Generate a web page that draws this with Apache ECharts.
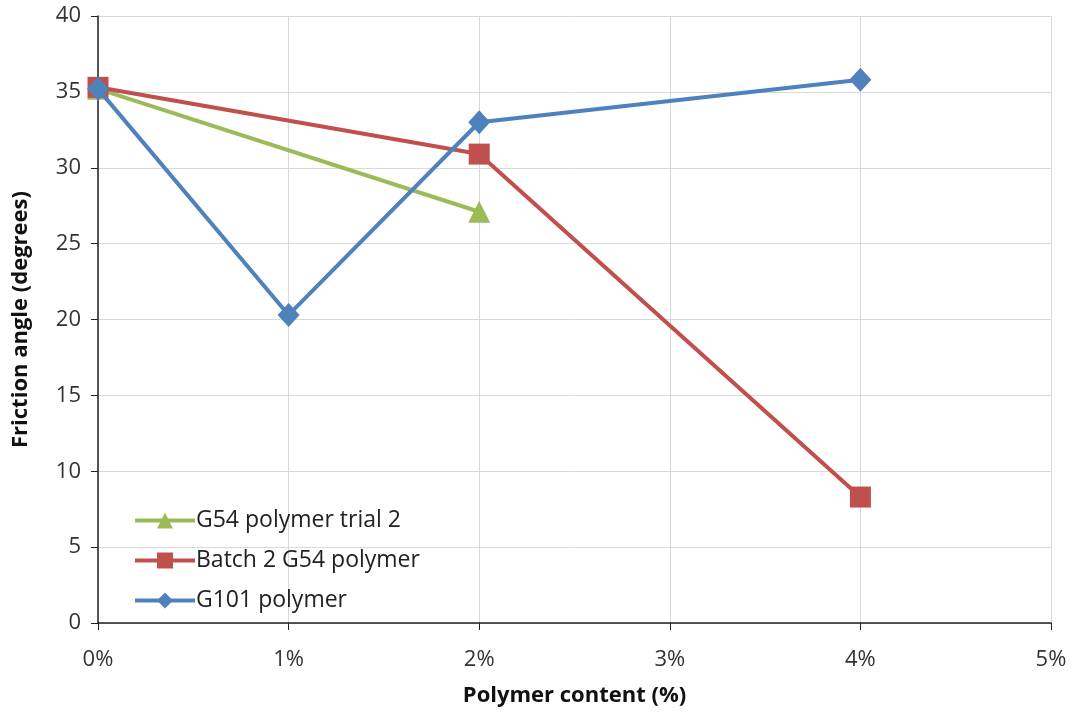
<!DOCTYPE html>
<html><head><meta charset="utf-8">
<script src="https://cdn.jsdelivr.net/npm/echarts@6/dist/echarts.min.js"></script>
<style>html,body{margin:0;padding:0;background:#fff}#c{width:1075px;height:715px}</style>
</head><body><div id="c"></div>
<script>
const xTicks = [0, 1, 2, 3, 4, 5];
const g54Trial2X = [0, 2];
const g54Trial2Y = [35.2, 27.1];
const batch2X = [0, 2, 4];
const batch2Y = [35.3, 30.9, 8.3];
const g101X = [0, 1, 2, 4];
const g101Y = [35.2, 20.3, 33.0, 35.8];
const names = ['G54 polymer trial 2', 'Batch 2 G54 polymer', 'G101 polymer'];

const pair = (xs, ys) => xs.map((x, i) => [x, ys[i]]);
const font = '"Open Sans", "Liberation Sans", sans-serif';
const chart = echarts.init(document.getElementById('c'));
chart.setOption({
  animation: false,
  backgroundColor: '#fff',
  grid: { left: 98, right: 24, top: 16, bottom: 92, outerBoundsMode: 'none', containLabel: false },
  legend: {
    orient: 'vertical', left: 128, top: 504, itemGap: 17,
    itemWidth: 60, itemHeight: 20,
    lineStyle: { width: 4 },
    textStyle: { fontFamily: font, fontSize: 23, color: '#222', padding: [0, 0, 0, -4] },
    data: names
  },
  xAxis: {
    type: 'value', min: 0, max: 5, interval: 1,
    name: 'Polymer content (%)', nameLocation: 'middle', nameGap: 62,
    nameTextStyle: { fontFamily: font, fontSize: 22, fontWeight: 'bold', color: '#111' },
    axisLine: { show: true, lineStyle: { color: '#222', width: 1.5 } },
    axisTick: { show: true, length: 7, lineStyle: { color: '#222' } },
    axisLabel: { formatter: '{value}%', fontFamily: font, fontSize: 22, color: '#333', margin: 26 },
    splitLine: { show: true, lineStyle: { color: '#d9d9d9', width: 1 } }
  },
  yAxis: {
    type: 'value', min: 0, max: 40, interval: 5,
    name: 'Friction angle (degrees)', nameLocation: 'middle', nameGap: 66, nameRotate: 90,
    nameTextStyle: { fontFamily: font, fontSize: 22, fontWeight: 'bold', color: '#111' },
    axisLine: { show: true, lineStyle: { color: '#222', width: 1.5 } },
    axisTick: { show: true, length: 7, lineStyle: { color: '#222' } },
    axisLabel: { fontFamily: font, fontSize: 22, color: '#333', margin: 17 },
    splitLine: { show: true, lineStyle: { color: '#d9d9d9', width: 1 } }
  },
  series: [
    { name: names[0], type: 'line', data: pair(g54Trial2X, g54Trial2Y),
      symbol: 'triangle', symbolSize: 22, color: '#9BBB59',
      lineStyle: { width: 4, color: '#9BBB59' }, itemStyle: { color: '#9BBB59' }, z: 2 },
    { name: names[1], type: 'line', data: pair(batch2X, batch2Y),
      symbol: 'rect', symbolSize: 21, color: '#C0504D',
      lineStyle: { width: 4, color: '#C0504D' }, itemStyle: { color: '#C0504D' }, z: 3 },
    { name: names[2], type: 'line', data: pair(g101X, g101Y),
      symbol: 'diamond', symbolSize: [22, 24], color: '#4F81BD',
      lineStyle: { width: 4, color: '#4F81BD' }, itemStyle: { color: '#4F81BD' }, z: 4 }
  ]
});
</script></body></html>
